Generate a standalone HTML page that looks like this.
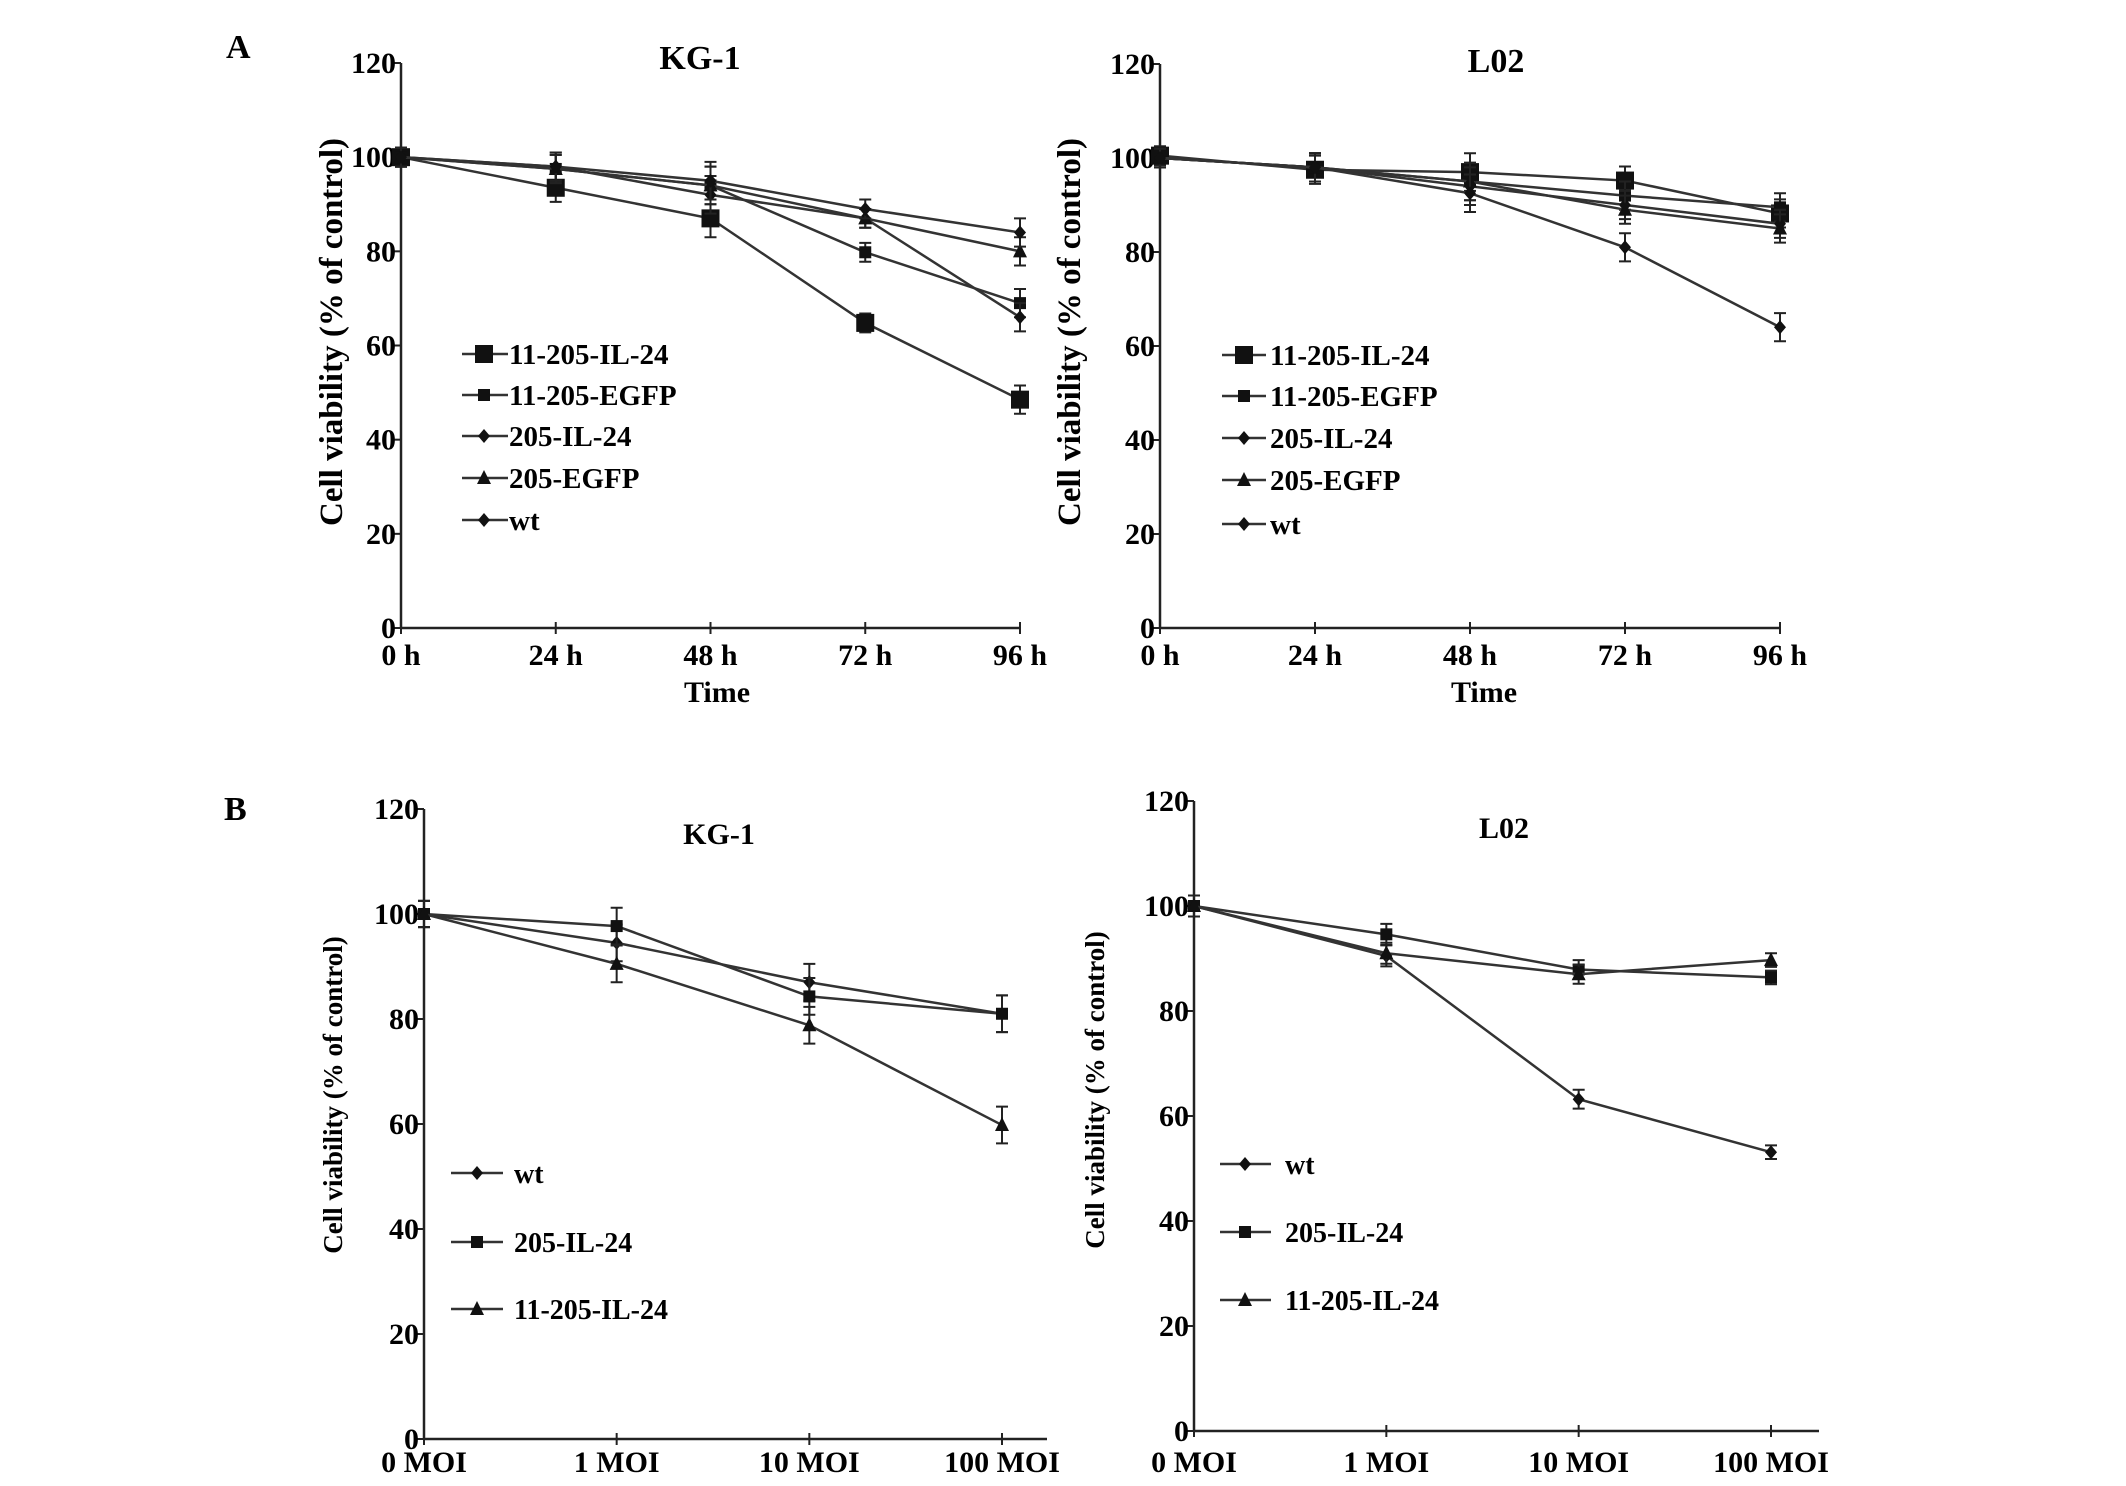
<!DOCTYPE html>
<html><head><meta charset="utf-8"><style>
html,body{margin:0;padding:0;background:#fff;}
svg{display:block;font-family:"Liberation Serif",serif;font-weight:bold;}
</style></head><body>
<svg id="fig" width="2126" height="1486" viewBox="0 0 2126 1486" xmlns="http://www.w3.org/2000/svg">
<text x="226" y="58" font-size="34">A</text>
<text x="224" y="820" font-size="34">B</text>
</svg>
<script>
// ---- data ----
const timeCats = ["0 h","24 h","48 h","72 h","96 h"];
const moiCats = ["0 MOI","1 MOI","10 MOI","100 MOI"];
const yTicks = [0,20,40,60,80,100,120];

const aKgIl24_11 = [100,93.5,87,64.8,48.5];
const aKgEgfp_11 = [100,97.5,94,79.8,69];
const aKgIl24 = [100,98,92,87,66];
const aKgEgfp = [100,97.5,94,87,80];
const aKgWt = [100,98,95,89,84];
const aKgErr = [2,3,4,2,3];

const aL02Il24_11 = [100.5,97.5,97,95.2,88.2];
const aL02Egfp_11 = [100,98,95,92,89.5];
const aL02Il24 = [100,98,94,90,86];
const aL02Egfp = [100,98,95,89,85];
const aL02Wt = [100,98,92.5,81,64];
const aL02Err = [2,3,4,3,3];

const bKgWt = [100,94.5,87,81];
const bKgIl24 = [100,97.7,84.3,81];
const bKgIl24_11 = [100,90.5,78.8,59.8];
const bKgErr = [2.5,3.5,3.5,3.5];

const bL02Wt = [100,90.5,63.2,53.1];
const bL02Il24 = [100,94.6,87.9,86.4];
const bL02Il24_11 = [100,91,87,89.7];
const bL02Err = [2,2,1.8,1.3];

const NS="http://www.w3.org/2000/svg";
const svg=document.getElementById('fig');
function mk(tag,attrs,parent){const e=document.createElementNS(NS,tag);for(const k in attrs)e.setAttribute(k,attrs[k]);(parent||svg).appendChild(e);return e;}
function marker(g,type,x,y,s){
  let e;
  if(type==='bigsq'){e=mk('rect',{x:x-9,y:y-9,width:18,height:18,fill:'#111'},g);}
  else if(type==='sq'){e=mk('rect',{x:x-6,y:y-6,width:12,height:12,fill:'#111'},g);}
  else if(type==='dia'){e=mk('polygon',{points:`${x},${y-7} ${x+6},${y} ${x},${y+7} ${x-6},${y}`,fill:'#111'},g);}
  else {e=mk('polygon',{points:`${x},${y-8} ${x+7},${y+6} ${x-7},${y+6}`,fill:'#111'},g);}
  
  
}
function panel(p){
  const g=mk('g',{});
  
  
  const n=p.cats.length;
  const xs=i=>p.x0+(p.x1-p.x0)*i/(n-1);
  const ys=v=>p.y0-(p.y0-p.y120)*v/120;
  const ya=mk('line',{x1:p.x0,y1:p.y120,x2:p.x0,y2:p.y0,stroke:'#222','stroke-width':2.5},g);
  
  const xa=mk('line',{x1:p.x0,y1:p.y0,x2:p.xend,y2:p.y0,stroke:'#222','stroke-width':2.5},g);
  
  yTicks.forEach(v=>{
    const y=ys(v);
    mk('line',{x1:p.x0-7,y1:y,x2:p.x0,y2:y,stroke:'#222','stroke-width':2},g);
    const t=mk('text',{x:p.x0-5,y:y+10,'font-size':p.tf,'text-anchor':'end'},g);
    t.textContent=v;
    
  });
  p.cats.forEach((c,i)=>{
    const x=xs(i);
    mk('line',{x1:x,y1:p.y0-6,x2:x,y2:p.y0+6,stroke:'#222','stroke-width':2},g);
    const t=mk('text',{x:x,y:p.tickY,'font-size':p.tf,'text-anchor':'middle'},g);
    t.textContent=c;
    
  });
  const tt=mk('text',{x:p.titleX,y:p.titleY,'font-size':p.titleF,'text-anchor':'middle'},g);
  tt.textContent=p.title;
  
  const yt=mk('text',{x:0,y:0,'font-size':p.ytF,'text-anchor':'middle',transform:`translate(${p.ytX},${p.ytY}) rotate(-90)`},g);
  yt.textContent='Cell viability (% of control)';
  
  if(p.xTitle){
    const xt=mk('text',{x:p.xTitleX,y:p.xTitleY,'font-size':30,'text-anchor':'middle'},g);
    xt.textContent=p.xTitle;
    
  }
  p.series.forEach(s=>{
    const pts=s.vals.map((v,i)=>`${xs(i)},${ys(v)}`).join(' ');
    const pl=mk('polyline',{points:pts,fill:'none',stroke:'#333','stroke-width':2.5},g);
    
    s.vals.forEach((v,i)=>{
      const e=p.err[i], x=xs(i);
      const eb=mk('path',{d:`M${x},${ys(v+e)}V${ys(v-e)}M${x-6},${ys(v+e)}H${x+6}M${x-6},${ys(v-e)}H${x+6}`,stroke:'#222','stroke-width':2,fill:'none'},g);
      
      marker(g,s.m,x,ys(v));
    });
  });
  p.legend.forEach((l,i)=>{
    const y=p.legY[i];
    const lg=mk('g',{},g);
    
    mk('line',{x1:p.legX0,y1:y,x2:p.legX1,y2:y,stroke:'#333','stroke-width':2.5},lg);
    marker(lg,l.m,p.legM,y);
    const t=mk('text',{x:p.legT,y:y+10,'font-size':p.legF},lg);
    t.textContent=l.label;
  });
}
const aLegend=[{m:'bigsq',label:'11-205-IL-24'},{m:'sq',label:'11-205-EGFP'},{m:'dia',label:'205-IL-24'},{m:'tri',label:'205-EGFP'},{m:'dia',label:'wt'}];
const bLegend=[{m:'dia',label:'wt'},{m:'sq',label:'205-IL-24'},{m:'tri',label:'11-205-IL-24'}];
panel({name:'chart-a-kg1',cats:timeCats,x0:401,x1:1020,xend:1020,y0:628,y120:63,tf:30,tickY:665,
  title:'KG-1',titleX:700,titleY:69,titleF:34,ytF:33,ytX:342,ytY:332,xTitle:'Time',xTitleX:717,xTitleY:702,
  err:aKgErr,series:[{vals:aKgIl24_11,m:'bigsq'},{vals:aKgEgfp_11,m:'sq'},{vals:aKgIl24,m:'dia'},{vals:aKgEgfp,m:'tri'},{vals:aKgWt,m:'dia'}],
  legend:aLegend,legY:[354,395,436,478,520],legX0:462,legX1:508,legM:484,legT:509,legF:29});
panel({name:'chart-a-l02',cats:timeCats,x0:1160,x1:1780,xend:1780,y0:628,y120:64,tf:30,tickY:665,
  title:'L02',titleX:1496,titleY:72,titleF:34,ytF:33,ytX:1080,ytY:332,xTitle:'Time',xTitleX:1484,xTitleY:702,
  err:aL02Err,series:[{vals:aL02Il24_11,m:'bigsq'},{vals:aL02Egfp_11,m:'sq'},{vals:aL02Il24,m:'dia'},{vals:aL02Egfp,m:'tri'},{vals:aL02Wt,m:'dia'}],
  legend:aLegend,legY:[355,396,438,480,524],legX0:1222,legX1:1266,legM:1244,legT:1270,legF:29});
panel({name:'chart-b-kg1',cats:moiCats,x0:424,x1:1002,xend:1047,y0:1439,y120:809,tf:30,tickY:1472,
  title:'KG-1',titleX:719,titleY:844,titleF:30,ytF:27,ytX:342,ytY:1095,
  err:bKgErr,series:[{vals:bKgWt,m:'dia'},{vals:bKgIl24,m:'sq'},{vals:bKgIl24_11,m:'tri'}],
  legend:bLegend,legY:[1173,1242,1309],legX0:451,legX1:503,legM:477,legT:514,legF:28});
panel({name:'chart-b-l02',cats:moiCats,x0:1194,x1:1771,xend:1819,y0:1431,y120:801,tf:30,tickY:1472,
  title:'L02',titleX:1504,titleY:838,titleF:30,ytF:27,ytX:1104,ytY:1090,
  err:bL02Err,series:[{vals:bL02Wt,m:'dia'},{vals:bL02Il24,m:'sq'},{vals:bL02Il24_11,m:'tri'}],
  legend:bLegend,legY:[1164,1232,1300],legX0:1220,legX1:1271,legM:1245,legT:1285,legF:28});
</script>
</body></html>
